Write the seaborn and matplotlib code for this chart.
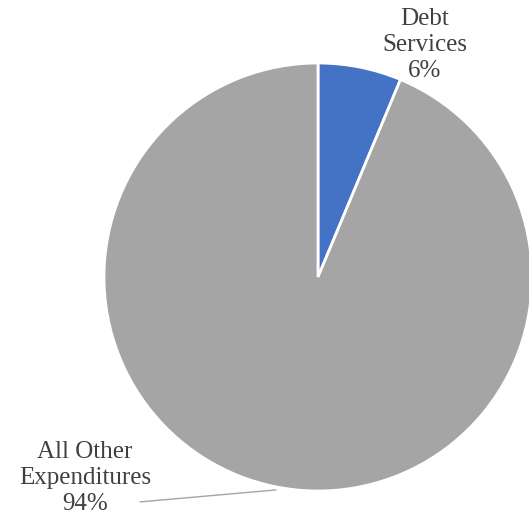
import seaborn as sns
import matplotlib.pyplot as plt

categories = ["Debt\nServices", "All Other\nExpenditures"]
shares = [6.3, 93.7]
pct_labels = ["6%", "94%"]
colors = ["#4472C4", "#A5A5A5"]

sns.set_theme(style="white")
plt.rcParams['font.family'] = ['Liberation Serif', 'DejaVu Serif']

fig = plt.figure(figsize=(5.29, 5.20), dpi=100)
R = 214
cx, cy = 318, 277
ax = fig.add_axes([(cx - R) / 529, (520 - cy - R) / 520, 2 * R / 529, 2 * R / 520])

wedges, _ = ax.pie(shares, colors=sns.color_palette(colors), startangle=90, counterclock=False,
                   radius=1, wedgeprops=dict(edgecolor="white", linewidth=2))
for w in wedges:
    w.set_clip_on(False)
ax.set_xlim(-1, 1)
ax.set_ylim(-1, 1)
ax.set_aspect("equal")
ax.axis("off")

text_color = "#404040"
ax.text(0.5, 1.084, f"{categories[0]}\n{pct_labels[0]}", ha="center", va="center",
        fontsize=18, color=text_color, linespacing=1.22, clip_on=False)
ax.text(-1.089, -0.939, f"{categories[1]}\n{pct_labels[1]}", ha="center", va="center",
        fontsize=18, color=text_color, linespacing=1.22, clip_on=False)
ax.plot([-0.832, -0.196], [-1.051, -0.995], color="#A5A5A5", lw=1, clip_on=False)

fig.savefig("out.png", dpi=100)
